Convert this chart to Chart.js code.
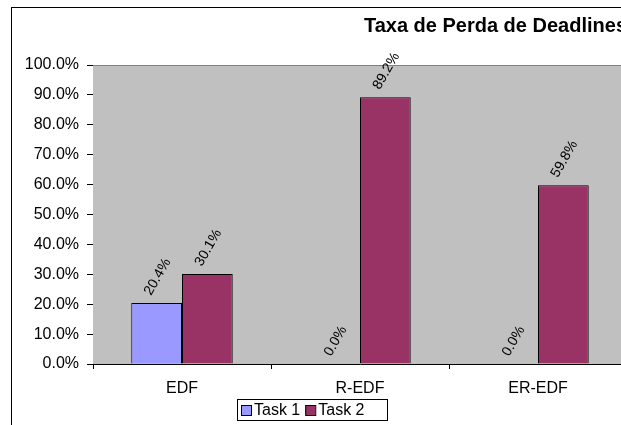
<!DOCTYPE html>
<html>
<head>
<meta charset="utf-8">
<script src="https://cdn.jsdelivr.net/npm/chart.js@4.4.1/dist/chart.umd.min.js"></script>
<style>
  html, body { margin: 0; padding: 0; background: #fff; overflow: hidden; }
  #frame { position: absolute; left: 11px; top: 7px; border-left: 1px solid #000; border-top: 1px solid #000; }
  canvas { display: block; }
</style>
</head>
<body>
<div id="frame"><canvas id="chart" width="640" height="430"></canvas></div>
<script>
// dados do gráfico
const categories = ['EDF', 'R-EDF', 'ER-EDF'];
const task1 = [20.4, 0.0, 0.0];
const task2 = [30.1, 89.2, 59.8];
const seriesNames = ['Task 1', 'Task 2'];
const yTicks = [0, 10, 20, 30, 40, 50, 60, 70, 80, 90, 100];

const FONT = 'Arial, "Liberation Sans", sans-serif';

// fundo cinza da área do gráfico
const plotBg = {
  id: 'plotBg',
  beforeDatasetsDraw(chart) {
    const { ctx, chartArea: a } = chart;
    ctx.save();
    ctx.fillStyle = '#c0c0c0';
    ctx.fillRect(a.left, a.top, a.right - a.left, a.bottom - a.top);
    ctx.strokeStyle = '#808080';
    ctx.lineWidth = 1;
    ctx.beginPath();
    ctx.moveTo(a.left, a.top + 0.5);
    ctx.lineTo(a.right, a.top + 0.5);
    ctx.stroke();
    ctx.restore();
  }
};

// rótulos de valor girados
const valueLabels = {
  id: 'valueLabels',
  afterDatasetsDraw(chart) {
    const ctx = chart.ctx;
    ctx.save();
    ctx.font = '14px ' + FONT;
    ctx.fillStyle = '#000';
    ctx.textAlign = 'center';
    ctx.textBaseline = 'middle';
    chart.data.datasets.forEach((ds, i) => {
      chart.getDatasetMeta(i).data.forEach((bar, j) => {
        const txt = ds.data[j].toFixed(1) + '%';
        const w = ctx.measureText(txt).width;
        const cx = bar.x + 1;
        const cy = bar.y - 9 - (w / 2) * 0.866;
        ctx.save();
        ctx.translate(cx, cy);
        ctx.rotate(-Math.PI / 3);
        ctx.fillText(txt, 0, 0);
        ctx.restore();
      });
    });
    ctx.restore();
  }
};

// legenda com borda
const boxLegend = {
  id: 'boxLegend',
  afterDraw(chart) {
    const ctx = chart.ctx;
    const x0 = 225, y0 = 391, w = 150, h = 21;
    ctx.save();
    ctx.fillStyle = '#fff';
    ctx.fillRect(x0, y0, w, h);
    ctx.strokeStyle = '#000';
    ctx.lineWidth = 1;
    ctx.strokeRect(x0 + 0.5, y0 + 0.5, w, h);
    ctx.font = '16px ' + FONT;
    ctx.textBaseline = 'middle';
    ctx.textAlign = 'left';
    let x = x0 + 4;
    chart.data.datasets.forEach(ds => {
      ctx.fillStyle = ds.backgroundColor;
      ctx.fillRect(x, y0 + 6, 10, 10);
      ctx.strokeRect(x + 0.5, y0 + 6.5, 10, 10);
      ctx.fillStyle = '#000';
      ctx.fillText(ds.label, x + 13, y0 + 12);
      x += 13 + ctx.measureText(ds.label).width + 5;
    });
    ctx.restore();
  }
};

new Chart(document.getElementById('chart'), {
  type: 'bar',
  data: {
    labels: categories,
    datasets: [
      { label: seriesNames[0], data: task1, backgroundColor: '#9999ff', borderColor: '#000', borderWidth: 1 },
      { label: seriesNames[1], data: task2, backgroundColor: '#993366', borderColor: '#000', borderWidth: 1 }
    ]
  },
  options: {
    responsive: false,
    animation: false,
    devicePixelRatio: 1,
    layout: { padding: { left: 0, right: 25, top: 0, bottom: 39 } },
    categoryPercentage: 0.57,
    barPercentage: 1,
    plugins: {
      legend: { display: false },
      tooltip: { enabled: false },
      title: {
        display: true,
        text: 'Taxa de Perda de Deadlines',
        align: 'end',
        color: '#000',
        font: { family: FONT, size: 20, weight: 'bold', lineHeight: 1.2 },
        padding: { top: 6, bottom: 27 }
      }
    },
    scales: {
      x: {
        grid: { display: true, drawOnChartArea: false, tickLength: 5, tickColor: '#000', offset: true },
        border: { color: '#000', width: 1 },
        ticks: { color: '#000', font: { family: FONT, size: 16 }, padding: 10, maxRotation: 0 },
        afterFit(scale) { scale.height = 35; }
      },
      y: {
        min: 0,
        max: 100,
        afterBuildTicks(scale) { scale.ticks = yTicks.map(v => ({ value: v })); },
        grid: { drawOnChartArea: false, tickLength: 6, tickColor: '#000' },
        border: { color: '#000', width: 1 },
        ticks: { color: '#000', font: { family: FONT, size: 16 }, padding: 8, callback: v => v.toFixed(1) + '%' },
        afterFit(scale) { scale.width = 81; }
      }
    }
  },
  plugins: [plotBg, valueLabels, boxLegend]
});
</script>
</body>
</html>
